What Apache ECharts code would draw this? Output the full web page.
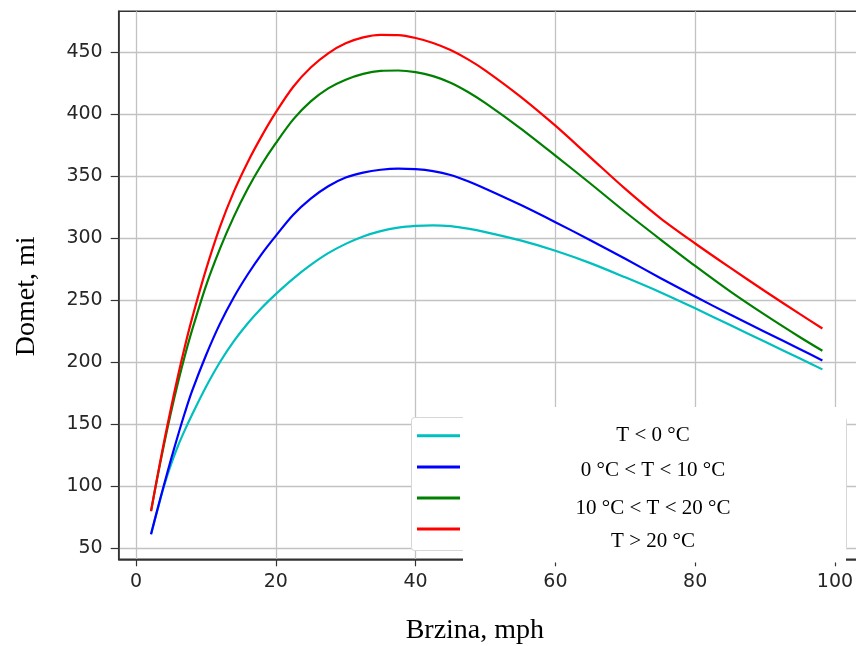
<!DOCTYPE html>
<html><head><meta charset="utf-8">
<script src="https://cdn.jsdelivr.net/npm/echarts@6/dist/echarts.min.js"></script>
<style>html,body{margin:0;padding:0;background:#fff}#c{width:856px;height:646px}</style>
</head><body><div id="c"></div>
<script>
const speed = [2.15, 3, 4, 5, 6, 7, 8, 10, 12, 14, 16, 18, 20, 22.5, 25, 27.5, 30, 32.5, 35, 37.5, 40, 42.5, 45, 47.5, 50, 55, 60, 65, 70, 75, 80, 85, 90, 95, 98.2];
const rangeBelow0 = [61.3, 79.5, 100, 117.5, 132.5, 145.5, 157.5, 180, 200, 217, 231.5, 244, 255, 267.5, 278.5, 288, 295.5, 301.5, 305.8, 308.6, 310, 310.5, 309.8, 307.8, 305, 298.3, 290, 280, 268.5, 256.5, 243.5, 230, 216.5, 203, 194.3];
const range0to10 = [61.3, 80, 101, 121.5, 141, 159.5, 176.5, 205.5, 231, 252.5, 271, 287.5, 302, 319, 332, 342, 349, 353, 355.3, 356.2, 355.8, 354.2, 351, 346, 340, 327, 313, 298.5, 283.5, 268, 253, 238.5, 224.5, 210.5, 201.5];
const range10to20 = [80, 105.5, 133.5, 159.5, 183.5, 205.5, 225.5, 261.5, 291.5, 317.5, 340.1, 359.7, 376.7, 395.9, 410.4, 420.9, 427.9, 432.6, 435, 435.3, 434, 430.8, 425.5, 418, 409, 388.7, 366.7, 344.2, 321.2, 299.2, 277.7, 257.2, 238.2, 220.2, 209.3];
const rangeAbove20 = [80, 106, 135.5, 163, 189, 213, 235, 274.5, 309, 337.6, 361.6, 382.6, 401.5, 422.2, 437.7, 449.2, 457.2, 462, 464, 463.8, 461.5, 457.5, 451.8, 444.3, 435.3, 414.3, 390.8, 365.3, 339.8, 316.3, 295.8, 276.3, 257.3, 238.8, 227.3];
const seriesNames = ['T < 0 °C', '0 °C < T < 10 °C', '10 °C < T < 20 °C', 'T > 20 °C'];
const seriesColors = ['#00bfbf', '#0000ff', '#008000', '#ff0000'];
const xTicks = [0, 20, 40, 60, 80, 100];
const yTicks = [50, 100, 150, 200, 250, 300, 350, 400, 450];
const xTitle = 'Brzina, mph';
const yTitle = 'Domet, mi';

const allValues = [rangeBelow0, range0to10, range10to20, rangeAbove20];
const chart = echarts.init(document.getElementById('c'), null, {renderer: 'canvas'});

const legendTops = [423, 452, 476, 505];
const legendPads = [[0,0,1.4,0],[6,0,0,0],[20,0,0,0],[24,0,0,0]];

const option = {
  animation: false,
  backgroundColor: '#fff',
  grid: {left: 118.7, top: 11.3, width: 738.3, height: 548, show: true, borderColor: '#333', borderWidth: 1.5, backgroundColor: 'transparent', containLabel: false, outerBoundsMode: 'none'},
  xAxis: {
    type: 'value', min: -2.475, max: 103.15,
    axisLine: {show: true, onZero: false, lineStyle: {color: '#333', width: 1.5}},
    axisTick: {show: true, length: 7, customValues: xTicks, lineStyle: {color: '#333', width: 1.2}},
    axisLabel: {customValues: xTicks, fontFamily: 'DejaVu Sans', fontSize: 19, color: '#262626', margin: 13},
    splitLine: {show: true, lineStyle: {color: '#c2c2c2', width: 1.3}},
    name: xTitle, nameLocation: 'middle', nameGap: 57,
    nameTextStyle: {fontFamily: 'Liberation Serif', fontSize: 28, color: '#000', padding: [0, 26, 0, 0]}
  },
  yAxis: {
    type: 'value', min: 41.13, max: 483.06,
    axisLine: {show: true, onZero: false, lineStyle: {color: '#333', width: 1.5}},
    axisTick: {show: true, length: 8, customValues: yTicks, lineStyle: {color: '#333', width: 1.2}},
    axisLabel: {customValues: yTicks, fontFamily: 'DejaVu Sans', fontSize: 19, color: '#262626', margin: 16},
    splitLine: {show: true, lineStyle: {color: '#c2c2c2', width: 1.3}},
    name: yTitle, nameLocation: 'middle', nameGap: 78,
    nameTextStyle: {fontFamily: 'Liberation Serif', fontSize: 28, color: '#000', padding: [0, 22, 0, 0]}
  },
  legend: seriesNames.map((n, i) => ({
    data: [n], orient: 'vertical', left: 417, top: legendTops[i], padding: 0,
    icon: 'rect', itemWidth: 43, itemHeight: 3, itemGap: 0, selectedMode: false,
    formatter: '{t|{name}}',
    textStyle: {padding: legendPads[i], lineHeight: 24, fontSize: 21, fontFamily: 'Liberation Serif', color: '#000',
      rich: {t: {width: 376, align: 'center', fontFamily: 'Liberation Serif', fontSize: 21, lineHeight: 24, color: '#000'}}}
  })),
  graphic: [
    {type: 'rect', z: 3, silent: true, shape: {x: 411.5, y: 417.5, width: 435, height: 133, r: 3}, style: {fill: '#fff', stroke: '#d6d6d6', lineWidth: 1}},
    {type: 'rect', z: 3, silent: true, shape: {x: 463, y: 407, width: 383, height: 155.5}, style: {fill: '#fff'}}
  ],
  series: seriesNames.map((n, i) => ({
    name: n, type: 'line', showSymbol: false, symbol: 'none', smooth: 0.3,
    color: seriesColors[i],
    lineStyle: {width: 2.2, color: seriesColors[i]},
    data: speed.map((x, k) => [x, allValues[i][k]])
  }))
};
chart.setOption(option);
</script></body></html>
